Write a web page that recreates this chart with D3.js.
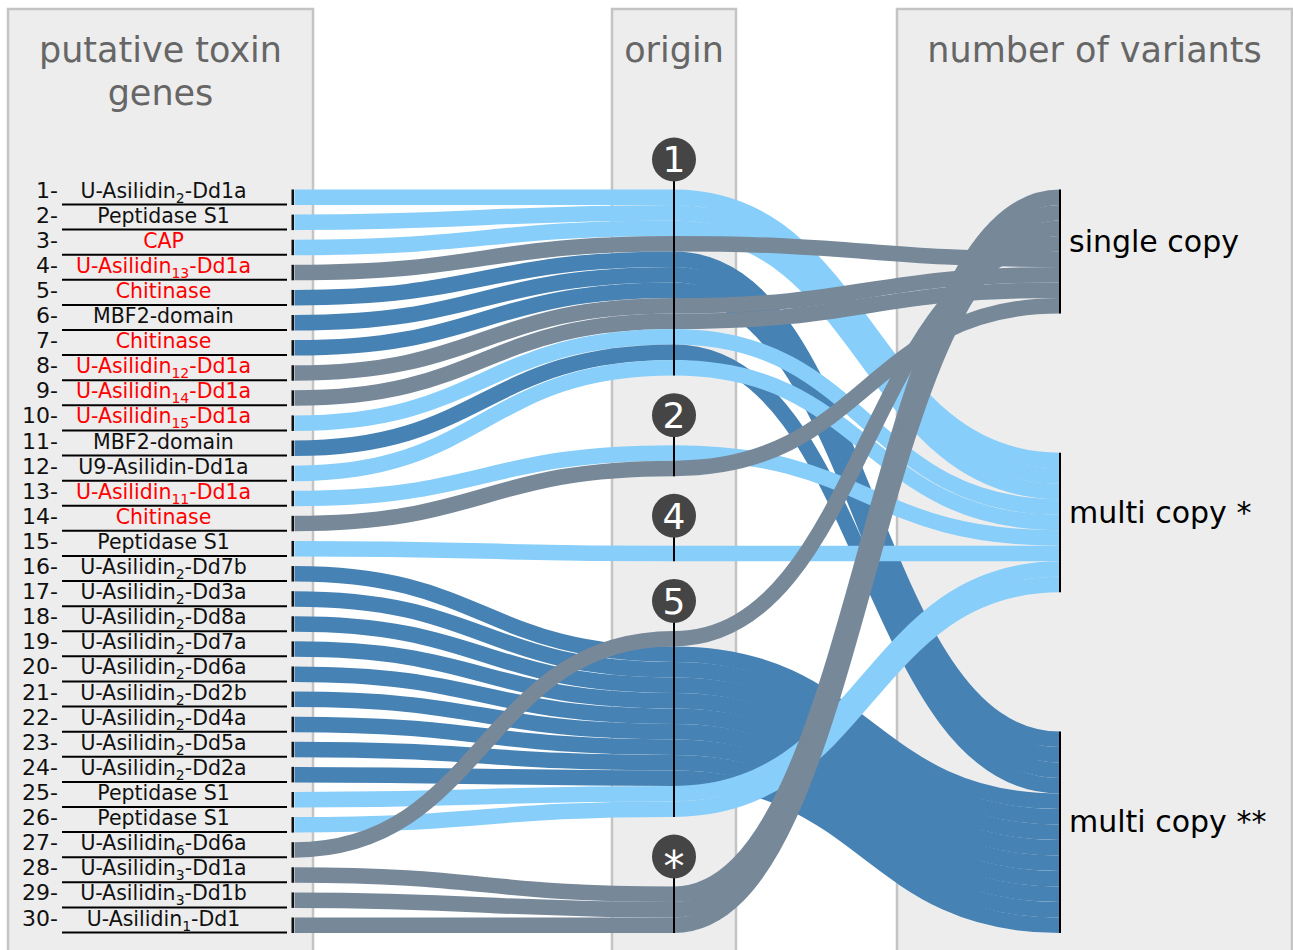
<!DOCTYPE html>
<html>
<head>
<meta charset="utf-8">
<script src="https://cdn.jsdelivr.net/npm/d3@7"></script>
<style>
  body { margin: 0; background: #ffffff; }
  svg { display: block; font-family: "DejaVu Sans", Verdana, sans-serif; }
</style>
</head>
<body>
<svg id="chart" width="1293" height="950"></svg>
<script>
// ---------------- data ----------------
const geneLabels = [
  "U-Asilidin{2}-Dd1a", "Peptidase S1", "CAP", "U-Asilidin{13}-Dd1a", "Chitinase",
  "MBF2-domain", "Chitinase", "U-Asilidin{12}-Dd1a", "U-Asilidin{14}-Dd1a", "U-Asilidin{15}-Dd1a",
  "MBF2-domain", "U9-Asilidin-Dd1a", "U-Asilidin{11}-Dd1a", "Chitinase", "Peptidase S1",
  "U-Asilidin{2}-Dd7b", "U-Asilidin{2}-Dd3a", "U-Asilidin{2}-Dd8a", "U-Asilidin{2}-Dd7a", "U-Asilidin{2}-Dd6a",
  "U-Asilidin{2}-Dd2b", "U-Asilidin{2}-Dd4a", "U-Asilidin{2}-Dd5a", "U-Asilidin{2}-Dd2a", "Peptidase S1",
  "Peptidase S1", "U-Asilidin{6}-Dd6a", "U-Asilidin{3}-Dd1a", "U-Asilidin{3}-Dd1b", "U-Asilidin{1}-Dd1"
];
// 1 = highlighted (red) gene name
const geneHighlight = [0,0,1,1,1, 0,1,1,1,1, 0,0,1,1,0, 0,0,0,0,0, 0,0,0,0,0, 0,0,0,0,0];
const geneOrigin = ["1","1","1","1","1", "1","1","1","1","1", "1","1","2","2","4",
                    "5","5","5","5","5", "5","5","5","5","5", "5","5","*","*","*"];
const geneVariant = ["multi copy *","multi copy *","multi copy *","single copy","multi copy **",
                     "multi copy **","multi copy **","single copy","single copy","multi copy *",
                     "multi copy **","multi copy *","multi copy *","single copy","multi copy *",
                     "multi copy **","multi copy **","multi copy **","multi copy **","multi copy **",
                     "multi copy **","multi copy **","multi copy **","multi copy **","multi copy *",
                     "multi copy *","single copy","single copy","single copy","single copy"];
const originNodes = ["1","2","4","5","*"];
const variantNodes = ["single copy","multi copy *","multi copy **"];
// vertical stacking of genes (gene numbers) inside the origin and variant columns
const originStack = [1,2,3,4,5,6,7,8,9,10,11,12, 13,14, 15, 27,16,17,18,19,20,21,22,23,24,25,26, 28,29,30];
const variantStack = [28,29,30,27,4,8,9,14, 1,2,3,10,12,13,15,25,26, 5,6,7,11,16,17,18,19,20,21,22,23,24];
const columnTitles = [["putative toxin","genes"], ["origin"], ["number of variants"]];
const variantColors = ["#778899", "#87cefa", "#4682b4"];

// ---------------- layout ----------------
const svg = d3.select("#chart");
const Y0 = 189.5, Y1 = 933, K = 15.5;
const N = geneLabels.length;
const thick = d3.scaleLinear().domain([0, N]).range([0, N * K]);
const colX = d3.scaleOrdinal().domain(["genes","origin","variants"]).range([294.5, 674, 1060]);
const color = d3.scaleOrdinal().domain(variantNodes).range(variantColors);

function stackColumn(order, nodeOf, nodeList) {
  const pad = (Y1 - Y0 - thick(N)) / (nodeList.length - 1);
  const pos = {}, nodes = {};
  let count = 0, gaps = 0, prev = null;
  order.forEach(g => {
    const nd = nodeOf(g);
    if (prev !== null && nd !== prev) gaps++;
    const y = Y0 + thick(count) + gaps * pad;
    pos[g] = y;
    if (!nodes[nd]) nodes[nd] = {y0: y, y1: y};
    nodes[nd].y1 = y + thick(1);
    count++; prev = nd;
  });
  return {pos, nodes};
}
const geneIdx = d3.range(1, N + 1);
const leftCol = stackColumn(geneIdx, g => "g" + g, geneIdx);
const midCol = stackColumn(originStack, g => geneOrigin[g - 1], originNodes);
const rightCol = stackColumn(variantStack, g => geneVariant[g - 1], variantNodes);

// ---------------- panels ----------------
const panels = [
  {x: 8, w: 305, cx: 160.5},
  {x: 612, w: 124, cx: 674},
  {x: 897, w: 395, cx: 1094.5}
];
svg.selectAll("rect.panel").data(panels).join("rect")
  .attr("class", "panel")
  .attr("x", d => d.x).attr("y", 9).attr("width", d => d.w).attr("height", 960)
  .attr("fill", "#ededed").attr("stroke", "#c4c4c4").attr("stroke-width", 2.5);

panels.forEach((p, i) => {
  columnTitles[i].forEach((t, j) => {
    svg.append("text").attr("x", p.cx).attr("y", 62 + j * 43)
      .attr("text-anchor", "middle").attr("font-size", 35).attr("fill", "#666666")
      .text(t);
  });
});

// ---------------- links ----------------
const link = d3.linkHorizontal();
const linkG = svg.append("g").attr("fill", "none");
geneIdx.forEach(g => {
  const c = color(geneVariant[g - 1]);
  const yl = leftCol.pos[g] + K / 2, ym = midCol.pos[g] + K / 2, yr = rightCol.pos[g] + K / 2;
  linkG.append("path")
    .attr("d", link({source: [colX("genes"), yl], target: [colX("origin"), ym]}))
    .attr("stroke", c).attr("stroke-width", K);
  linkG.append("path")
    .attr("d", link({source: [colX("origin"), ym], target: [colX("variants"), yr]}))
    .attr("stroke", c).attr("stroke-width", K);
});

// ---------------- left nodes & labels ----------------
geneIdx.forEach(g => {
  const y0 = leftCol.pos[g], y1 = y0 + K;
  svg.append("rect").attr("x", colX("genes") - 3).attr("y", y0).attr("width", 2.5).attr("height", K)
    .attr("fill", "#111");
  svg.append("line").attr("x1", 62).attr("x2", 287).attr("y1", y1 - 0.5).attr("y2", y1 - 0.5)
    .attr("stroke", "#000").attr("stroke-width", 2);
  svg.append("text").attr("x", 58).attr("y", y1 - 7.5).attr("text-anchor", "end")
    .attr("font-size", 22).attr("fill", "#111").text(g + "-");
  const label = geneLabels[g - 1];
  const t = svg.append("text").attr("x", 163.5).attr("y", y1 - 7.5).attr("text-anchor", "middle")
    .attr("font-size", 20.5).attr("fill", geneHighlight[g - 1] ? "#ff0000" : "#111");
  const m = label.match(/^(.*)\{(\d+)\}(.*)$/);
  if (m) {
    t.append("tspan").text(m[1]);
    t.append("tspan").attr("font-size", 14).attr("dy", 5).text(m[2]);
    t.append("tspan").attr("dy", -5).text(m[3]);
  } else {
    t.text(label);
  }
});

// ---------------- origin nodes ----------------
originNodes.forEach(nd => {
  const b = midCol.nodes[nd];
  const cy = b.y0 - 30;
  svg.append("line").attr("x1", colX("origin")).attr("x2", colX("origin"))
    .attr("y1", cy).attr("y2", b.y1).attr("stroke", "#000").attr("stroke-width", 2);
  svg.append("circle").attr("cx", colX("origin")).attr("cy", cy).attr("r", 22).attr("fill", "#454545");
  svg.append("text").attr("x", colX("origin")).attr("y", cy)
    .attr("dy", nd === "*" ? "0.58em" : "0.36em")
    .attr("text-anchor", "middle").attr("font-size", nd === "*" ? 42 : 36).attr("fill", "#fff")
    .text(nd);
});

// ---------------- variant nodes ----------------
variantNodes.forEach(nd => {
  const b = rightCol.nodes[nd];
  svg.append("line").attr("x1", colX("variants")).attr("x2", colX("variants"))
    .attr("y1", b.y0).attr("y2", b.y1).attr("stroke", "#000").attr("stroke-width", 2);
  svg.append("text").attr("x", colX("variants") + 9).attr("y", (b.y0 + b.y1) / 2)
    .attr("font-size", 30).attr("fill", "#000").text(nd);
});
</script>
</body>
</html>
